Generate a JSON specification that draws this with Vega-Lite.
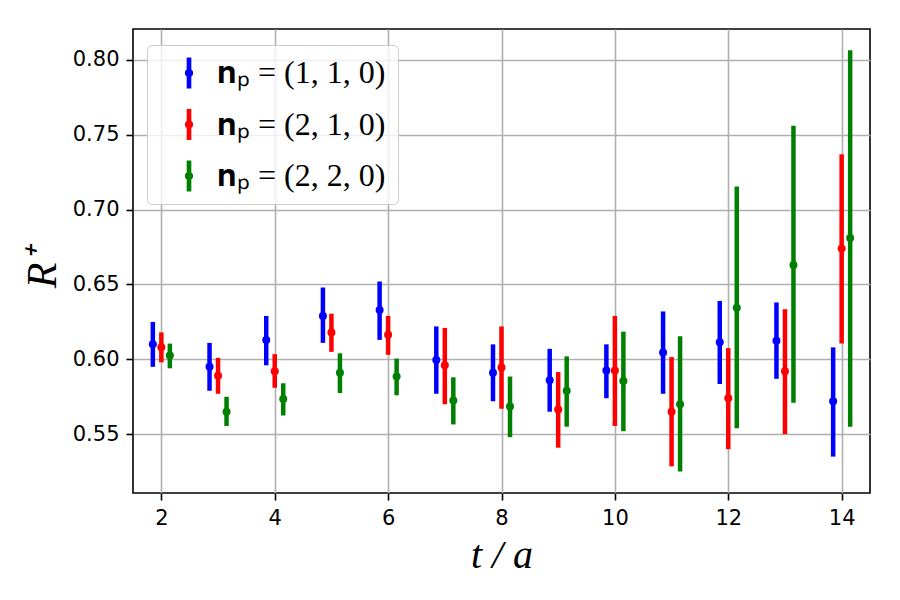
{
  "$schema": "https://vega.github.io/schema/vega-lite/v6.json",
  "width": 737,
  "height": 464,
  "autosize": "none",
  "padding": {"left": 133, "top": 29, "right": 30, "bottom": 107},
  "background": "white",
  "config": {
    "view": {"stroke": "black", "strokeWidth": 1.6},
    "axis": {
      "domain": false,
      "grid": true,
      "gridColor": "#b0b0b0",
      "gridWidth": 1.6,
      "tickColor": "black",
      "tickSize": 7,
      "tickWidth": 1.6,
      "labelFont": "DejaVu Sans",
      "labelFontSize": 21,
      "labelColor": "black",
      "labelPadding": 7,
      "titleFont": "Liberation Serif",
      "titleFontStyle": "italic",
      "titleFontWeight": "normal",
      "titleColor": "black"
    }
  },
  "data": {
    "values": [
      {"t": 1.85, "series": "𝐧ₚ = (1, 1, 0)", "r": 0.610, "lo": 0.595, "hi": 0.625},
      {"t": 2.85, "series": "𝐧ₚ = (1, 1, 0)", "r": 0.595, "lo": 0.579, "hi": 0.611},
      {"t": 3.85, "series": "𝐧ₚ = (1, 1, 0)", "r": 0.613, "lo": 0.596, "hi": 0.629},
      {"t": 4.85, "series": "𝐧ₚ = (1, 1, 0)", "r": 0.629, "lo": 0.611, "hi": 0.648},
      {"t": 5.85, "series": "𝐧ₚ = (1, 1, 0)", "r": 0.633, "lo": 0.613, "hi": 0.652},
      {"t": 6.85, "series": "𝐧ₚ = (1, 1, 0)", "r": 0.5995, "lo": 0.577, "hi": 0.622},
      {"t": 7.85, "series": "𝐧ₚ = (1, 1, 0)", "r": 0.591, "lo": 0.572, "hi": 0.610},
      {"t": 8.85, "series": "𝐧ₚ = (1, 1, 0)", "r": 0.586, "lo": 0.565, "hi": 0.607},
      {"t": 9.85, "series": "𝐧ₚ = (1, 1, 0)", "r": 0.5925, "lo": 0.574, "hi": 0.610},
      {"t": 10.85, "series": "𝐧ₚ = (1, 1, 0)", "r": 0.6045, "lo": 0.577, "hi": 0.632},
      {"t": 11.85, "series": "𝐧ₚ = (1, 1, 0)", "r": 0.6115, "lo": 0.5835, "hi": 0.639},
      {"t": 12.85, "series": "𝐧ₚ = (1, 1, 0)", "r": 0.6125, "lo": 0.587, "hi": 0.638},
      {"t": 13.85, "series": "𝐧ₚ = (1, 1, 0)", "r": 0.572, "lo": 0.535, "hi": 0.608},

      {"t": 2, "series": "𝐧ₚ = (2, 1, 0)", "r": 0.608, "lo": 0.598, "hi": 0.618},
      {"t": 3, "series": "𝐧ₚ = (2, 1, 0)", "r": 0.589, "lo": 0.577, "hi": 0.601},
      {"t": 4, "series": "𝐧ₚ = (2, 1, 0)", "r": 0.592, "lo": 0.581, "hi": 0.6035},
      {"t": 5, "series": "𝐧ₚ = (2, 1, 0)", "r": 0.618, "lo": 0.605, "hi": 0.6305},
      {"t": 6, "series": "𝐧ₚ = (2, 1, 0)", "r": 0.6165, "lo": 0.603, "hi": 0.629},
      {"t": 7, "series": "𝐧ₚ = (2, 1, 0)", "r": 0.596, "lo": 0.570, "hi": 0.621},
      {"t": 8, "series": "𝐧ₚ = (2, 1, 0)", "r": 0.5945, "lo": 0.567, "hi": 0.622},
      {"t": 9, "series": "𝐧ₚ = (2, 1, 0)", "r": 0.5665, "lo": 0.541, "hi": 0.5915},
      {"t": 10, "series": "𝐧ₚ = (2, 1, 0)", "r": 0.5925, "lo": 0.5555, "hi": 0.629},
      {"t": 11, "series": "𝐧ₚ = (2, 1, 0)", "r": 0.565, "lo": 0.5285, "hi": 0.6015},
      {"t": 12, "series": "𝐧ₚ = (2, 1, 0)", "r": 0.574, "lo": 0.540, "hi": 0.6075},
      {"t": 13, "series": "𝐧ₚ = (2, 1, 0)", "r": 0.592, "lo": 0.550, "hi": 0.6335},
      {"t": 14, "series": "𝐧ₚ = (2, 1, 0)", "r": 0.674, "lo": 0.6105, "hi": 0.737},

      {"t": 2.15, "series": "𝐧ₚ = (2, 2, 0)", "r": 0.6025, "lo": 0.594, "hi": 0.6105},
      {"t": 3.15, "series": "𝐧ₚ = (2, 2, 0)", "r": 0.565, "lo": 0.5555, "hi": 0.575},
      {"t": 4.15, "series": "𝐧ₚ = (2, 2, 0)", "r": 0.5735, "lo": 0.5625, "hi": 0.584},
      {"t": 5.15, "series": "𝐧ₚ = (2, 2, 0)", "r": 0.591, "lo": 0.5775, "hi": 0.604},
      {"t": 6.15, "series": "𝐧ₚ = (2, 2, 0)", "r": 0.5885, "lo": 0.576, "hi": 0.6005},
      {"t": 7.15, "series": "𝐧ₚ = (2, 2, 0)", "r": 0.5725, "lo": 0.5565, "hi": 0.588},
      {"t": 8.15, "series": "𝐧ₚ = (2, 2, 0)", "r": 0.5685, "lo": 0.548, "hi": 0.5885},
      {"t": 9.15, "series": "𝐧ₚ = (2, 2, 0)", "r": 0.579, "lo": 0.555, "hi": 0.602},
      {"t": 10.15, "series": "𝐧ₚ = (2, 2, 0)", "r": 0.5855, "lo": 0.552, "hi": 0.6185},
      {"t": 11.15, "series": "𝐧ₚ = (2, 2, 0)", "r": 0.570, "lo": 0.525, "hi": 0.6155},
      {"t": 12.15, "series": "𝐧ₚ = (2, 2, 0)", "r": 0.6345, "lo": 0.554, "hi": 0.7155},
      {"t": 13.15, "series": "𝐧ₚ = (2, 2, 0)", "r": 0.663, "lo": 0.571, "hi": 0.756},
      {"t": 14.15, "series": "𝐧ₚ = (2, 2, 0)", "r": 0.681, "lo": 0.555, "hi": 0.8065}
    ]
  },
  "encoding": {
    "x": {
      "field": "t",
      "type": "quantitative",
      "scale": {"domain": [1.5, 14.5], "nice": false, "zero": false},
      "axis": {
        "values": [2, 4, 6, 8, 10, 12, 14],
        "title": "t / a",
        "titleFontSize": 40,
        "titleBaseline": "alphabetic",
        "titleY": 74
      }
    },
    "color": {
      "field": "series",
      "type": "nominal",
      "scale": {
        "domain": ["𝐧ₚ = (1, 1, 0)", "𝐧ₚ = (2, 1, 0)", "𝐧ₚ = (2, 2, 0)"],
        "range": ["#0000ff", "#ff0000", "#008000"]
      }
    }
  },
  "layer": [
    {
      "mark": {"type": "rule", "strokeWidth": 4.5},
      "encoding": {
        "y": {
          "field": "lo",
          "type": "quantitative",
          "scale": {"domain": [0.5107, 0.8207], "nice": false, "zero": false},
          "axis": {
            "values": [0.55, 0.6, 0.65, 0.7, 0.75, 0.8],
            "format": ".2f",
            "title": "R⁺",
            "titleFontSize": 42,
            "titleAngle": -90,
            "titleBaseline": "alphabetic",
            "titleAlign": "center",
            "titleX": -78,
            "titleY": 239
          }
        },
        "y2": {"field": "hi"},
        "color": {"field": "series", "type": "nominal", "legend": null}
      }
    },
    {
      "mark": {"type": "point", "filled": true, "opacity": 1, "size": 64},
      "encoding": {
        "y": {"field": "r", "type": "quantitative"},
        "color": {
          "field": "series",
          "type": "nominal",
          "legend": {
            "title": null,
            "orient": "none",
            "legendX": 14,
            "legendY": 16,
            "padding": 12,
            "fillColor": "rgba(255,255,255,0.8)",
            "strokeColor": "#cccccc",
            "cornerRadius": 5,
            "symbolType": "M-0.15,-1H0.15V1H-0.15Z M0.27,0A0.27,0.27 0 1,1 -0.27,0A0.27,0.27 0 1,1 0.27,0Z",
            "symbolSize": 961,
            "symbolStrokeWidth": 0,
            "symbolOffset": 14,
            "labelFont": "Liberation Serif",
            "labelFontSize": 32,
            "labelColor": "black",
            "labelOffset": 12,
            "labelLimit": 400,
            "rowPadding": 19.5
          }
        }
      }
    }
  ],
  "resolve": {"legend": {"color": "independent"}}
}
